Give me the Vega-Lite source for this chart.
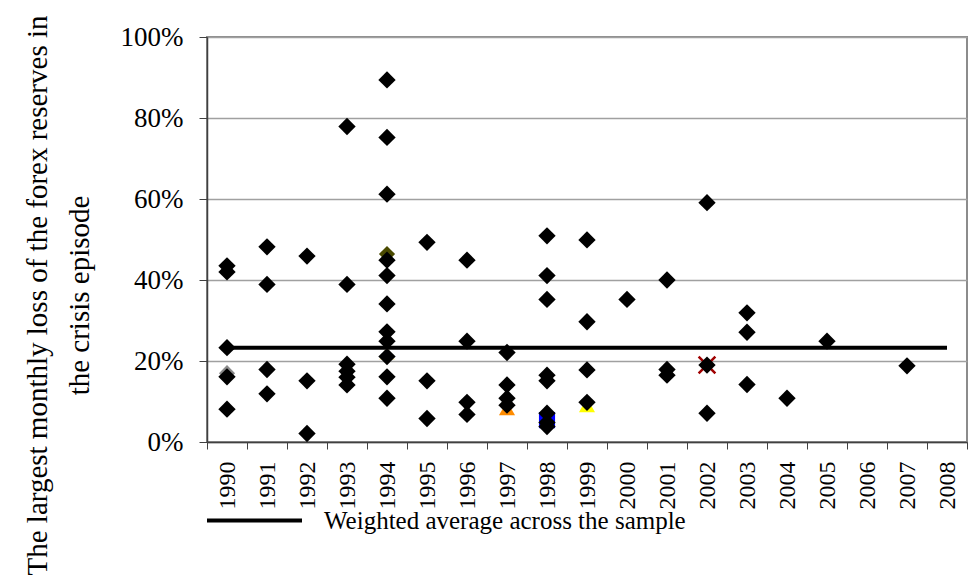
{
  "$schema": "https://vega.github.io/schema/vega-lite/v6.json",
  "autosize": "none",
  "width": 760,
  "height": 405,
  "padding": {"left": 207, "top": 37, "right": 7, "bottom": 145},
  "background": "white",
  "config": {"view": {"stroke": "#8c8c8c", "strokeWidth": 2}, "font": "Liberation Serif"},
  "datasets": {
    "points": [
      {"year": "1990", "value": 0.435}, {"year": "1990", "value": 0.42}, {"year": "1990", "value": 0.233}, {"year": "1990", "value": 0.161}, {"year": "1990", "value": 0.081},
      {"year": "1991", "value": 0.482}, {"year": "1991", "value": 0.389}, {"year": "1991", "value": 0.179}, {"year": "1991", "value": 0.119},
      {"year": "1992", "value": 0.459}, {"year": "1992", "value": 0.151}, {"year": "1992", "value": 0.021},
      {"year": "1993", "value": 0.779}, {"year": "1993", "value": 0.389}, {"year": "1993", "value": 0.192}, {"year": "1993", "value": 0.175}, {"year": "1993", "value": 0.16}, {"year": "1993", "value": 0.141},
      {"year": "1994", "value": 0.894}, {"year": "1994", "value": 0.752}, {"year": "1994", "value": 0.612}, {"year": "1994", "value": 0.449}, {"year": "1994", "value": 0.411}, {"year": "1994", "value": 0.341}, {"year": "1994", "value": 0.272}, {"year": "1994", "value": 0.249}, {"year": "1994", "value": 0.211}, {"year": "1994", "value": 0.161}, {"year": "1994", "value": 0.108},
      {"year": "1995", "value": 0.493}, {"year": "1995", "value": 0.151}, {"year": "1995", "value": 0.058},
      {"year": "1996", "value": 0.449}, {"year": "1996", "value": 0.249}, {"year": "1996", "value": 0.098}, {"year": "1996", "value": 0.068},
      {"year": "1997", "value": 0.221}, {"year": "1997", "value": 0.141}, {"year": "1997", "value": 0.108}, {"year": "1997", "value": 0.091},
      {"year": "1998", "value": 0.509}, {"year": "1998", "value": 0.411}, {"year": "1998", "value": 0.352}, {"year": "1998", "value": 0.165}, {"year": "1998", "value": 0.151}, {"year": "1998", "value": 0.071}, {"year": "1998", "value": 0.048}, {"year": "1998", "value": 0.038},
      {"year": "1999", "value": 0.499}, {"year": "1999", "value": 0.297}, {"year": "1999", "value": 0.178}, {"year": "1999", "value": 0.098},
      {"year": "2000", "value": 0.352},
      {"year": "2001", "value": 0.40}, {"year": "2001", "value": 0.179}, {"year": "2001", "value": 0.165},
      {"year": "2002", "value": 0.591}, {"year": "2002", "value": 0.19}, {"year": "2002", "value": 0.071},
      {"year": "2003", "value": 0.319}, {"year": "2003", "value": 0.271}, {"year": "2003", "value": 0.142},
      {"year": "2004", "value": 0.108},
      {"year": "2005", "value": 0.249},
      {"year": "2007", "value": 0.188}
    ],
    "extra": [
      {"year": "1990", "value": 0.17, "marker": "gray"},
      {"year": "1994", "value": 0.464, "marker": "olive"},
      {"year": "1994", "value": 0.22, "marker": "paleyellow"},
      {"year": "1997", "value": 0.083, "marker": "orange"},
      {"year": "1998", "value": 0.054, "marker": "blue"},
      {"year": "1999", "value": 0.091, "marker": "yellow"}
    ],
    "cross": [
      {"year": "2002", "value": 0.19}
    ],
    "avg": [
      {"year": "1990", "value": 0.233, "series": "Weighted average across the sample"},
      {"year": "2008", "value": 0.233, "series": "Weighted average across the sample"}
    ]
  },
  "encoding": {
    "x": {
      "field": "year", "type": "ordinal", "title": null,
      "scale": {"type": "band", "domain": ["1990","1991","1992","1993","1994","1995","1996","1997","1998","1999","2000","2001","2002","2003","2004","2005","2006","2007","2008"], "paddingInner": 0, "paddingOuter": 0},
      "axis": {"labelAngle": 270, "labelFontSize": 24, "labelFont": "Liberation Serif", "labelColor": "black", "labelPadding": 12, "tickBand": "extent", "tickSize": 7, "tickColor": "#404040", "domainColor": "#404040", "domainWidth": 1.5, "grid": false}
    },
    "y": {
      "field": "value", "type": "quantitative",
      "scale": {"domain": [0, 1], "nice": false},
      "axis": {
        "values": [0, 0.2, 0.4, 0.6, 0.8, 1], "format": ".0%",
        "title": ["The largest monthly loss of the forex reserves in", "the crisis episode"],
        "titleFont": "Liberation Serif", "titleFontSize": 29, "titleFontWeight": "normal", "titleColor": "black",
        "titleX": -170, "titleY": 258, "titleBaseline": "middle", "titleLineHeight": 42, "titleAngle": 270,
        "labelFontSize": 27, "labelFont": "Liberation Serif", "labelColor": "black", "labelPadding": 16,
        "tickSize": 8, "tickColor": "#404040", "domainColor": "#404040", "domainWidth": 1.5,
        "grid": true, "gridColor": "#a0a0a0", "gridWidth": 1.5
      }
    }
  },
  "layer": [
    {
      "data": {"name": "extra"},
      "mark": {"type": "point", "filled": true, "opacity": 1, "size": 260},
      "encoding": {
        "shape": {"field": "marker", "type": "nominal", "legend": null, "scale": {"domain": ["gray","olive","paleyellow","orange","blue","yellow"], "range": ["diamond","diamond","triangle-up","triangle-up","square","triangle-up"]}},
        "color": {"field": "marker", "type": "nominal", "legend": null, "scale": {"domain": ["gray","olive","paleyellow","orange","blue","yellow"], "range": ["#8a8a8a","#4a4a00","#fff4c0","#ff8c00","#0000ff","#ffff00"]}}
      }
    },
    {
      "data": {"name": "cross"},
      "mark": {"type": "point", "filled": false, "shape": "M-1,-1L1,1M1,-1L-1,1", "size": 280, "stroke": "#a00000", "strokeWidth": 2.5, "opacity": 1}
    },
    {
      "data": {"name": "avg"},
      "mark": {"type": "line", "strokeWidth": 4},
      "encoding": {
        "stroke": {
          "field": "series", "type": "nominal",
          "scale": {"range": ["black"]},
          "legend": {"orient": "none", "legendX": -2, "legendY": 434, "title": null, "symbolType": "stroke", "symbolSize": 9025, "symbolStrokeWidth": 4, "symbolStrokeColor": "black", "labelFontSize": 25, "labelFont": "Liberation Serif", "labelColor": "black", "labelOffset": 20, "labelLimit": 0}
        }
      }
    },
    {
      "data": {"name": "points"},
      "mark": {"type": "point", "shape": "diamond", "filled": true, "color": "black", "opacity": 1, "size": 300}
    }
  ]
}
